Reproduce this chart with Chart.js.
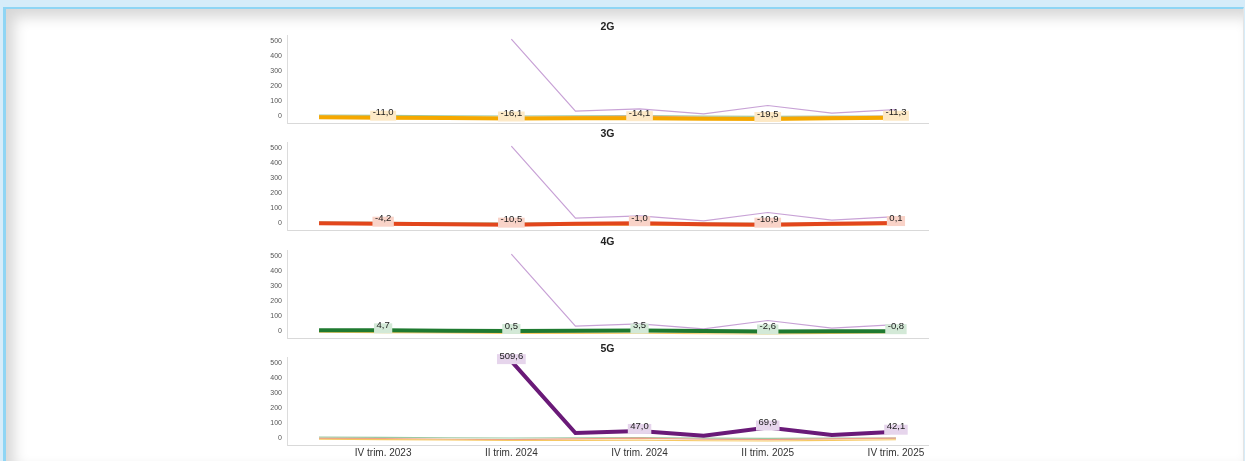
<!DOCTYPE html>
<html>
<head>
<meta charset="utf-8">
<script src="https://cdn.jsdelivr.net/npm/chart.js@4.4.1/dist/chart.umd.min.js"></script>
<style>
html,body{margin:0;padding:0;}
body{width:1245px;height:461px;background:#d6ecf9;overflow:hidden;position:relative;}
#frame{position:absolute;left:3px;top:7px;right:1px;bottom:0;background:#fff;border-left:3px solid #8fd5f4;border-top:2px solid #8fd5f4;border-right:1px solid #e4e4e4;box-shadow:inset 8px 8px 14px rgba(0,0,0,0.16);}
canvas{position:absolute;left:250px;}
</style>
</head>
<body>
<div id="frame"></div>
<canvas id="c2g" width="700" height="103" style="top:21px"></canvas>
<canvas id="c3g" width="700" height="103" style="top:128px"></canvas>
<canvas id="c4g" width="700" height="103" style="top:236px"></canvas>
<canvas id="c5g" width="700" height="118" style="top:343px"></canvas>
<script>
const quarters = ["III trim. 2023","IV trim. 2023","I trim. 2024","II trim. 2024","III trim. 2024",
                  "IV trim. 2024","I trim. 2025","II trim. 2025","III trim. 2025","IV trim. 2025"];
const techs = ["2G","3G","4G","5G"];
const v2g = [-8, -11.0, -13, -16.1, -15, -14.1, -18, -19.5, -15, -11.3];
const v3g = [-2, -4.2, -8, -10.5, -5, -1.0, -8, -10.9, -5, 0.1];
const v4g = [6, 4.7, 2, 0.5, 2, 3.5, 0, -2.6, -1, -0.8];
const v5g = [null, null, null, 509.6, 33, 47.0, 15, 69.9, 20, 42.1];
const yTicks = [0, 100, 200, 300, 400, 500];
const labelIdx = [1, 3, 5, 7, 9];

const series = [v2g, v3g, v4g, v5g];
const strong = ["#f5a800", "#e2461c", "#1f7a30", "#6a1a78"];
const faint  = ["#f6c862", "#eea08a", "#9ccaa3", "#c8a2d6"];
const labelBg = ["#fde9c6", "#f9d3c8", "#d3e9d7", "#e6d5ec"];

Chart.defaults.font.family = "'Liberation Sans', Arial, sans-serif";

const valueLabels = {
  id: "valueLabels",
  afterDatasetsDraw(chart, args, opts) {
    const ctx = chart.ctx;
    const meta = chart.getDatasetMeta(opts.index);
    const vals = chart.data.datasets[opts.index].data;
    ctx.save();
    ctx.font = "9.5px 'Liberation Sans', Arial, sans-serif";
    ctx.textAlign = "center";
    ctx.textBaseline = "middle";
    labelIdx.forEach(i => {
      const v = vals[i];
      if (v == null) return;
      const p = meta.data[i];
      const txt = v.toFixed(1).replace(".", ",");
      const w = ctx.measureText(txt).width + 5;
      ctx.fillStyle = opts.bg;
      ctx.fillRect(p.x - w / 2, p.y - 7, w, 10);
      ctx.fillStyle = "#1a1a1a";
      ctx.fillText(txt, p.x, p.y - 5);
    });
    ctx.restore();
  }
};

function makeChart(id, idx) {
  const isLast = idx === 3;
  const datasets = series.map((d, k) => ({
    label: techs[k],
    data: d,
    borderColor: k === idx ? strong[k] : faint[k],
    borderWidth: k === idx ? 4 : 1.2,
    order: k === idx ? 0 : 1,
    pointRadius: 0,
    tension: 0,
    fill: false
  }));
  new Chart(document.getElementById(id).getContext("2d"), {
    type: "line",
    data: { labels: quarters, datasets: datasets },
    options: {
      responsive: false,
      animation: false,
      layout: { padding: { right: 22, bottom: isLast ? 0 : 1, left: 0, top: 0 } },
      plugins: {
        legend: { display: false },
        tooltip: { enabled: false },
        title: { display: true, text: techs[idx], fullSize: false, color: "#222",
                 font: { size: 10.5, weight: "bold" }, padding: { top: 0, bottom: 2 } },
        valueLabels: { index: idx, bg: labelBg[idx] }
      },
      scales: {
        x: {
          offset: true,
          grid: { display: false, drawTicks: false },
          border: { color: "#d9d9d9", width: 1 },
          ticks: { display: isLast, autoSkip: false, maxRotation: 0, color: "#333",
                   font: { size: 10 }, padding: 2,
                   callback: (v, i) => (i % 2 === 1 ? quarters[i] : "") },
          afterFit: s => { s.height = isLast ? 16 : 0; s.paddingLeft = 0; s.paddingRight = 0; }
        },
        y: {
          min: -46, max: 533,
          grid: { display: false, drawTicks: false },
          border: { color: "#dcdcdc", width: 1 },
          ticks: { color: "#555", font: { size: 7 }, padding: 5 },
          afterBuildTicks: s => { s.ticks = yTicks.map(v => ({ value: v })); },
          afterFit: s => { s.width = 37; s.paddingTop = 0; s.paddingBottom = 0; }
        }
      }
    },
    plugins: [valueLabels]
  });
}

makeChart("c2g", 0);
makeChart("c3g", 1);
makeChart("c4g", 2);
makeChart("c5g", 3);
</script>
</body>
</html>
